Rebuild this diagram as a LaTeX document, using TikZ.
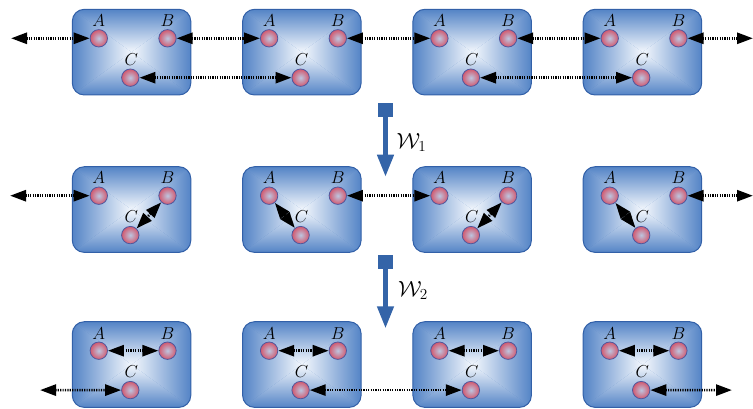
\documentclass[tikz,border=0pt]{standalone}
\usetikzlibrary{arrows.meta,calc}
\definecolor{boxedge}{RGB}{84,132,198}
\definecolor{boxmid}{RGB}{244,248,253}
\definecolor{boxline}{RGB}{50,96,168}
\definecolor{wblue}{RGB}{52,100,168}
\definecolor{ballin}{RGB}{188,198,224}
\definecolor{ballout}{RGB}{210,88,110}
\definecolor{ballline}{RGB}{78,88,158}
\tikzset{
  ball/.style={circle, minimum size=17.4pt, inner sep=0pt, draw=ballline, line width=0.8pt,
    inner color=ballin, outer color=ballout},
  lbl/.style={anchor=base, inner sep=0pt, font=\LARGE},
  dl/.style={line width=2.7pt, dash pattern=on 1.2pt off 1.2pt,
    {Triangle[length=16pt,width=11pt]}-{Triangle[length=16pt,width=11pt]}},
  boxborder/.style={draw=boxline, line width=1pt, rounded corners=12pt},
  wsq/.style={rectangle, fill=wblue, minimum width=15pt, minimum height=14pt, inner sep=0pt},
  warrow/.style={draw=wblue, line width=4.5pt, -{Triangle[length=22pt,width=16pt]}, wblue},
  wlbl/.style={anchor=base west, inner sep=0pt, font=\huge, scale=1.06}
}
\newcommand{\mkcell}[3]{%
  \pgfmathsetmacro{\RR}{#2+118.5}%
  \pgfmathsetmacro{\BB}{#3+85.7}%
  \pgfmathsetmacro{\CX}{#2+59.25}%
  \pgfmathsetmacro{\CY}{#3+42.85}%
  \begin{scope}
    \clip[rounded corners=12pt] (#2,#3) rectangle (\RR,\BB);
    \fill[boxedge] (#2,#3) rectangle (\RR,\BB);
    \shade[top color=boxedge, bottom color=boxmid] (#2,#3) -- (\RR,#3) -- (\CX,\CY) -- cycle;
    \shade[bottom color=boxedge, top color=boxmid] (#2,\BB) -- (\RR,\BB) -- (\CX,\CY) -- cycle;
    \shade[left color=boxedge, right color=boxmid] (#2,#3) -- (#2,\BB) -- (\CX,\CY) -- cycle;
    \shade[right color=boxedge, left color=boxmid] (\RR,#3) -- (\RR,\BB) -- (\CX,\CY) -- cycle;
  \end{scope}
  \draw[boxborder] (#2,#3) rectangle (\RR,\BB);
  \node[ball] (A#1) at ($(#2,#3)+(26.5,29)$) {};
  \node[ball] (B#1) at ($(#2,#3)+(95.2,29)$) {};
  \node[ball] (C#1) at ($(#2,#3)+(58,68.4)$) {};
  \node[lbl] (lA#1) at ($(A#1)+(0,-11.7)$) {$A$};
  \node[lbl] (lB#1) at ($(B#1)+(0,-11.7)$) {$B$};
  \node[lbl] (lC#1) at ($(C#1)+(1,-12.2)$) {$C$};
}
\begin{document}
\begin{tikzpicture}[x=1pt,y=-1pt]
\useasboundingbox (0,0) rectangle (753,409);
% cells
\foreach \r/\T in {1/9.3,2/166.7,3/321.7}{
  \foreach \c in {1,2,3,4}{
    \pgfmathsetmacro{\LL}{72.3+170.3*(\c-1)}
    \mkcell{\r\c}{\LL}{\T}
  }
}
% free ends
\coordinate (L1) at (11,38.3);
\coordinate (R1) at (753,38.3);
\coordinate (L2) at (10,195.7);
\coordinate (R2) at (753,195.7);
\coordinate (L3) at (40,390.1);
\coordinate (R3) at (732,390.1);
% row 1
\draw[dl] (L1) -- (A11);
\draw[dl] (B11) -- (A12);
\draw[dl] (B12) -- (A13);
\draw[dl] (B13) -- (A14);
\draw[dl] (B14) -- (R1);
\draw[dl] (C11) -- (C12);
\draw[dl] (C13) -- (C14);
% row 2
\draw[dl] (L2) -- (A21);
\draw[dl] (B21) -- (C21);
\draw[dl] (A22) -- (C22);
\draw[dl] (B22) -- (A23);
\draw[dl] (B23) -- (C23);
\draw[dl] (A24) -- (C24);
\draw[dl] (B24) -- (R2);
% row 3
\draw[dl] (A31) -- (B31);
\draw[dl] (L3) -- (C31);
\draw[dl] (A32) -- (B32);
\draw[dl] (C32) -- (C33);
\draw[dl] (A33) -- (B33);
\draw[dl] (A34) -- (B34);
\draw[dl] (C34) -- (R3);
% W arrows
\node[wsq] (s1) at (385.5,110.2) {};
\coordinate (t1) at (385.5,176.7);
\draw[warrow] (s1.center) -- (t1);
\node[wlbl] (w1) at (396.5,148.5) {$\mathcal{W}_1$};
\node[wsq] (s2) at (385.5,262.2) {};
\coordinate (t2) at (385.5,328.3);
\draw[warrow] (s2.center) -- (t2);
\node[wlbl] (w2) at (398,296.7) {$\mathcal{W}_2$};
\end{tikzpicture}
\end{document}
